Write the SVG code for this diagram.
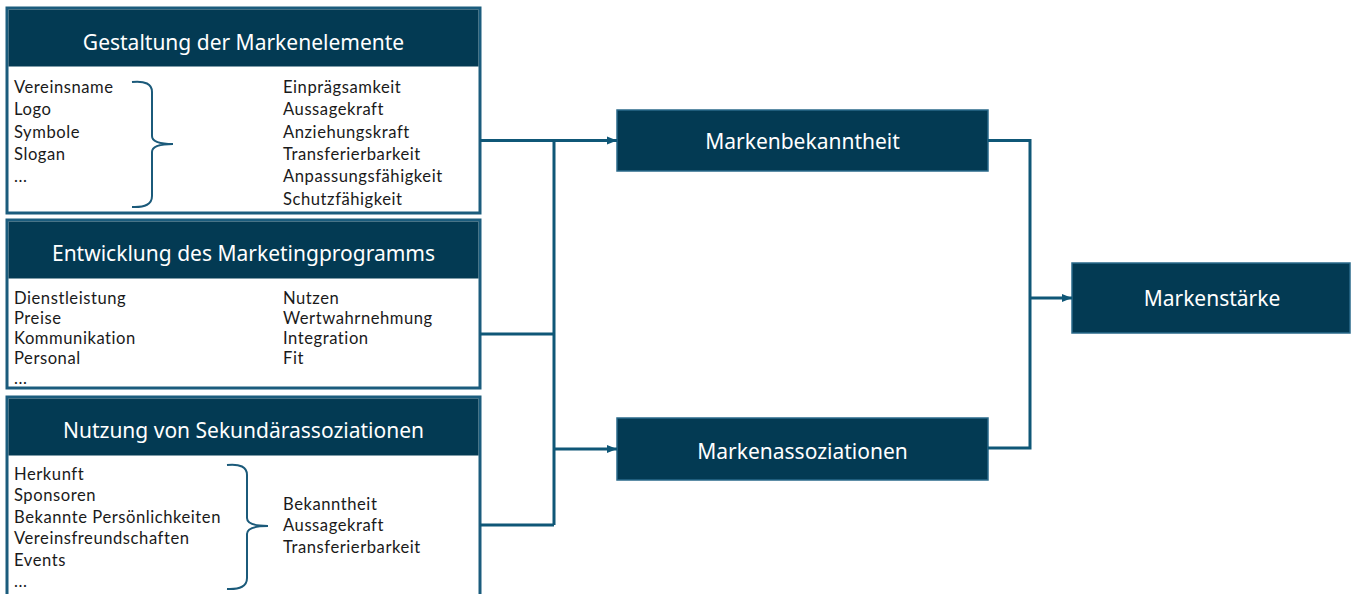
<svg xmlns="http://www.w3.org/2000/svg" width="1354" height="594" viewBox="0 0 1354 594">
<style>
.frame{fill:#fff;stroke:#1b5c7d;stroke-width:3}
.head{fill:#033a53}
.box{fill:#033a53;stroke:#2a6a8a;stroke-width:1.5}
.title{font-family:"Noto Sans",sans-serif;font-size:21px;fill:#fff;text-anchor:middle}
.ttl2{font-family:"Noto Sans",sans-serif;font-size:21px;fill:#fff;text-anchor:middle}
.item{font-family:Lato,"Noto Sans",sans-serif;font-size:16.6px;letter-spacing:0.55px;fill:#1a1a1a}
.brace{fill:none;stroke:#1b5a7a;stroke-width:2}
.conn{fill:none;stroke:#0f5777;stroke-width:3}
</style>
<defs>
<marker id="arr" viewBox="0 0 10 10" refX="10" refY="5" markerWidth="10" markerHeight="10" markerUnits="userSpaceOnUse" orient="auto">
<path d="M0,1 L10,5 L0,9 Z" fill="#0f5777"/>
</marker>
</defs>
<g id="gestaltung">
<rect class="frame" x="7" y="8" width="473" height="205"/>
<rect class="head" x="8.5" y="9.5" width="470" height="57"/>
<text class="title" x="243.5" y="49.5">Gestaltung der Markenelemente</text>
<text class="item" x="14" y="92.5">Vereinsname</text>
<text class="item" x="14" y="115">Logo</text>
<text class="item" x="14" y="137.5">Symbole</text>
<text class="item" x="14" y="160">Slogan</text>
<text class="item" x="14" y="182">...</text>
<path class="brace" d="M132,82 Q152,80 152,92 L152,136 Q152,144 173,144 Q152,144 152,152 L152,196 Q152,208 132,207"/>
<text class="item" x="283" y="92.5">Einprägsamkeit</text>
<text class="item" x="283" y="115">Aussagekraft</text>
<text class="item" x="283" y="137.5">Anziehungskraft</text>
<text class="item" x="283" y="160">Transferierbarkeit</text>
<text class="item" x="283" y="182">Anpassungsfähigkeit</text>
<text class="item" x="283" y="204.5">Schutzfähigkeit</text>
</g>
<g id="entwicklung">
<rect class="frame" x="7" y="220" width="473" height="168"/>
<rect class="head" x="8.5" y="221.5" width="470" height="57"/>
<text class="title" x="243.5" y="260.5">Entwicklung des Marketingprogramms</text>
<text class="item" x="14" y="303.5">Dienstleistung</text>
<text class="item" x="14" y="324">Preise</text>
<text class="item" x="14" y="344">Kommunikation</text>
<text class="item" x="14" y="364">Personal</text>
<text class="item" x="14" y="384">...</text>
<text class="item" x="283" y="303.5">Nutzen</text>
<text class="item" x="283" y="324">Wertwahrnehmung</text>
<text class="item" x="283" y="344">Integration</text>
<text class="item" x="283" y="364">Fit</text>
</g>
<g id="nutzung">
<rect class="frame" x="7" y="397" width="473" height="200"/>
<rect class="head" x="8.5" y="398.5" width="470" height="57"/>
<text class="title" x="243.5" y="437.5">Nutzung von Sekundärassoziationen</text>
<text class="item" x="14" y="479.5">Herkunft</text>
<text class="item" x="14" y="501">Sponsoren</text>
<text class="item" x="14" y="522.5">Bekannte Persönlichkeiten</text>
<text class="item" x="14" y="543.5">Vereinsfreundschaften</text>
<text class="item" x="14" y="565.5">Events</text>
<text class="item" x="14" y="587">...</text>
<path class="brace" d="M227,465 Q247,463 247,475 L247,518 Q247,526 268,526 Q247,526 247,534 L247,578 Q247,590 227,589"/>
<text class="item" x="283" y="509.5">Bekanntheit</text>
<text class="item" x="283" y="530.5">Aussagekraft</text>
<text class="item" x="283" y="552.5">Transferierbarkeit</text>
</g>
<g id="markenbekanntheit">
<rect class="box" x="617" y="110" width="371" height="61"/>
<text class="ttl2" x="802.5" y="148.5">Markenbekanntheit</text>
</g>
<g id="markenassoziationen">
<rect class="box" x="617" y="418" width="371" height="62"/>
<text class="ttl2" x="802.5" y="459">Markenassoziationen</text>
</g>
<g id="markenstaerke">
<rect class="box" x="1072" y="263" width="278" height="70"/>
<text class="ttl2" x="1212" y="306">Markenstärke</text>
</g>
<g id="connectors">
<path class="conn" d="M480,140.5 H617" marker-end="url(#arr)"/>
<path class="conn" d="M554,140.5 V525"/>
<path class="conn" d="M480,334 H554"/>
<path class="conn" d="M480,525 H554"/>
<path class="conn" d="M554,449 H617" marker-end="url(#arr)"/>
<path class="conn" d="M988,140.5 H1030 V448 H988"/>
<path class="conn" d="M1030,298 H1072" marker-end="url(#arr)"/>
</g>
</svg>
